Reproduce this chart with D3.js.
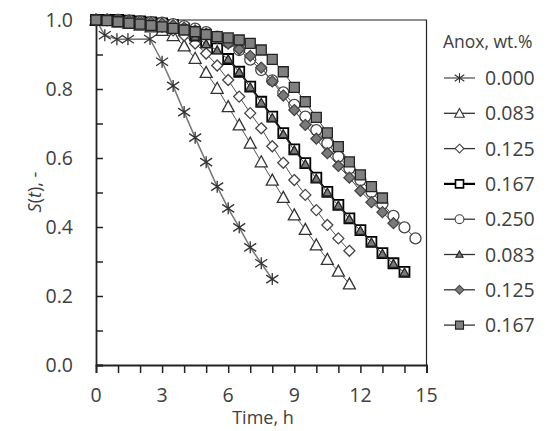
<!DOCTYPE html>
<html><head><meta charset="utf-8">
<script src="https://cdn.jsdelivr.net/npm/d3@7"></script>
<style>body{margin:0;background:#fff;}svg{display:block;font-family:"Open Sans",Lato,sans-serif;}</style>
</head><body><svg id="c" width="554" height="431"></svg>
<script>
const legendTitle = "Anox, wt.%";
const legendLabels = ["0.000","0.083","0.125","0.167","0.250","0.083","0.125","0.167"];
const xTickLabels = [0,3,6,9,12,15];
const yTickLabels = [0.0,0.2,0.4,0.6,0.8,1.0];

const tA = [0,0.4,0.95,1.45,2.45,3,3.5,4,4.5,5,5.5,6,6.5,7,7.5,8];
const sA = [1,0.956,0.944,0.944,0.945,0.879,0.809,0.733,0.659,0.588,0.517,0.454,0.399,0.341,0.295,0.249];

const tB = [0,0.5,1,1.5,2,2.5,3,3.5,4,4.5,5,5.5,6,6.5,7,7.5,8,8.5,9,9.5,10,10.5,11,11.5];
const sB = [1,1,0.995,0.99,0.985,0.98,0.97,0.955,0.925,0.889,0.848,0.802,0.749,0.696,0.643,0.589,0.536,0.486,0.435,0.393,0.348,0.306,0.272,0.235];

const tC = [0,0.5,1,1.5,2,2.5,3,3.5,4,4.5,5,5.5,6,6.5,7,7.5,8,8.5,9,9.5,10,10.5,11,11.5];
const sC = [1,1,0.998,0.995,0.99,0.985,0.98,0.97,0.955,0.932,0.903,0.868,0.826,0.778,0.73,0.686,0.634,0.586,0.536,0.493,0.449,0.406,0.367,0.331];

const tD = [0,0.5,1,1.5,2,2.5,3,3.5,4,4.5,5,5.5,6,6.5,7,7.5,8,8.5,9,9.5,10,10.5,11,11.5,12,12.5,13,13.5,14];
const sD = [1,1,1,0.998,0.996,0.993,0.99,0.985,0.975,0.955,0.935,0.918,0.887,0.85,0.807,0.763,0.72,0.672,0.625,0.585,0.543,0.502,0.464,0.425,0.391,0.357,0.324,0.295,0.27];

const tE = [0,0.5,1,1.5,2,2.5,3,3.5,4,4.5,5,5.5,6,6.5,7,7.5,8,8.5,9,9.5,10,10.5,11,11.5,12,12.5,13,13.5,14,14.5];
const sE = [1,1,1,0.998,0.996,0.994,0.992,0.988,0.982,0.975,0.965,0.952,0.935,0.913,0.885,0.855,0.825,0.79,0.754,0.72,0.681,0.643,0.604,0.57,0.536,0.502,0.467,0.432,0.399,0.367];

const tF = [0,0.5,1,1.5,2,2.5,3,3.5,4,4.5,5,5.5,6,6.5,7,7.5,8,8.5,9,9.5,10,10.5,11,11.5,12,12.5,13,13.5,14];
const sF = [1,1,1,0.997,0.995,0.992,0.988,0.982,0.972,0.952,0.93,0.912,0.886,0.849,0.805,0.76,0.716,0.669,0.622,0.582,0.54,0.5,0.462,0.423,0.389,0.355,0.322,0.293,0.268];

const tG = [0,0.5,1,1.5,2,2.5,3,3.5,4,4.5,5,5.5,6,6.5,7,7.5,8,8.5,9,9.5,10,10.5,11,11.5,12,12.5,13,13.5];
const sG = [1,1,1,0.998,0.996,0.993,0.99,0.985,0.978,0.97,0.96,0.948,0.932,0.915,0.896,0.862,0.822,0.781,0.739,0.696,0.656,0.614,0.577,0.543,0.505,0.472,0.443,0.411];

const tH = [0,0.5,1,1.5,2,2.5,3,3.5,4,4.5,5,5.5,6,6.5,7,7.5,8,8.5,9,9.5,10,10.5,11,11.5,12,12.5,13];
const sH = [1,0.998,0.995,0.991,0.988,0.984,0.98,0.976,0.971,0.966,0.958,0.952,0.948,0.942,0.932,0.913,0.886,0.85,0.805,0.763,0.718,0.673,0.633,0.589,0.551,0.517,0.484];

const series = [
  {t:tA, s:sA, marker:"star", fill:"none", stroke:"#333", line:"#777", lw:1.5},
  {t:tB, s:sB, marker:"tri", fill:"#fff", stroke:"#333", line:"#555", lw:1},
  {t:tC, s:sC, marker:"dia", fill:"#fff", stroke:"#444", line:"#555", lw:1},
  {t:tD, s:sD, marker:"sq", fill:"#fff", stroke:"#000", line:"#000", lw:2},
  {t:tE, s:sE, marker:"circ", fill:"#fff", stroke:"#444", line:"#555", lw:1},
  {t:tF, s:sF, marker:"tris", fill:"#7a7a7a", stroke:"#222", line:"#444", lw:1},
  {t:tG, s:sG, marker:"dia", fill:"#7a7a7a", stroke:"#444", line:"#444", lw:1},
  {t:tH, s:sH, marker:"sq", fill:"#808080", stroke:"#222", line:"#444", lw:1}
];

const txt = "#404040";
const svg = d3.select("#c");
const x = d3.scaleLinear().domain([0,15]).range([96,426.5]);
const y = d3.scaleLinear().domain([0,1]).range([365,20]);

svg.append("path").attr("d",`M${x(0)},${y(1)}H${x(15)}V${y(0)}`).attr("fill","none").attr("stroke","#222").attr("stroke-width",1.2);

const xa = svg.append("g").attr("transform",`translate(0,${y(0)})`)
  .call(d3.axisBottom(x).tickValues(d3.range(0,16,1)).tickSize(8).tickFormat(""));
xa.select(".domain").attr("stroke","#222").attr("stroke-width",1.8);
xa.selectAll(".tick line").attr("stroke","#222").attr("stroke-width",1.5);
svg.append("g").selectAll("text").data(xTickLabels).join("text")
  .attr("x",d=>x(d)).attr("y",402).attr("text-anchor","middle")
  .attr("font-size",19.5).attr("fill",txt).text(d=>d);

const ya = svg.append("g").attr("transform",`translate(${x(0)},0)`)
  .call(d3.axisRight(y).tickValues(d3.range(0,11).map(i=>i/10)).tickSize(7).tickFormat(""));
ya.select(".domain").attr("stroke","#222").attr("stroke-width",1.8);
ya.selectAll(".tick line").attr("stroke","#222").attr("stroke-width",1.5);
svg.append("g").selectAll("text").data(yTickLabels).join("text")
  .attr("x",73).attr("y",d=>y(d)+7).attr("text-anchor","end")
  .attr("font-size",19.5).attr("fill",txt).text(d=>d3.format(".1f")(d));

svg.append("text").attr("x",263).attr("y",424).attr("text-anchor","middle")
  .attr("font-size",18).attr("fill",txt).text("Time, h");
const yt = svg.append("text").attr("transform","translate(41,192) rotate(-90)")
  .attr("text-anchor","middle").attr("font-size",18).attr("fill",txt);
yt.append("tspan").attr("font-style","italic").text("S");
yt.append("tspan").text("(");
yt.append("tspan").attr("font-style","italic").text("t");
yt.append("tspan").text("), -");

function markerPath(m, k){
  k = k||1;
  if(m==="star") return `M0,${-6*k}V${6*k}M${-6*k},${-4*k}L${6*k},${4*k}M${-6*k},${4*k}L${6*k},${-4*k}`;
  if(m==="tri") return `M0,${-6*k}L${6*k},${5*k}L${-6*k},${5*k}Z`;
  if(m==="tris") return `M0,${-4.5*k}L${4.5*k},${3.5*k}L${-4.5*k},${3.5*k}Z`;
  if(m==="dia") return `M0,${-5.5*k}L${5.5*k},0L0,${5.5*k}L${-5.5*k},0Z`;
  if(m==="sq") return `M${-5*k},${-5*k}H${5*k}V${5*k}H${-5*k}Z`;
  if(m==="circ") return d3.arc()({innerRadius:0,outerRadius:5.5*k,startAngle:0,endAngle:2*Math.PI});
}

const line = d3.line().x(d=>x(d[0])).y(d=>y(d[1]));
series.forEach(sr=>{
  const pts = sr.t.map((t,i)=>[t,sr.s[i]]);
  const g = svg.append("g");
  g.append("path").attr("d",line(pts)).attr("fill","none").attr("stroke",sr.line).attr("stroke-width",sr.lw);
  g.selectAll("path.m").data(pts).join("path").attr("class","m")
    .attr("transform",d=>`translate(${x(d[0])},${y(d[1])})`)
    .attr("d",markerPath(sr.marker))
    .attr("fill",sr.fill).attr("stroke",sr.stroke)
    .attr("stroke-width",sr.marker==="sq"&&sr.fill==="#fff"?1.8:1.3);
});

const lg = svg.append("g");
lg.append("text").attr("x",443).attr("y",48).attr("font-size",17.5).attr("fill",txt).text(legendTitle);
legendLabels.forEach((lab,i)=>{
  const sr = series[i];
  const cy = 78 + i*35.3;
  lg.append("line").attr("x1",444).attr("x2",475).attr("y1",cy).attr("y2",cy)
    .attr("stroke",sr.marker==="star"?"#555":(i===3?"#000":"#333")).attr("stroke-width",i===3?2.2:1.3);
  lg.append("path").attr("transform",`translate(459.5,${cy})`).attr("d",markerPath(sr.marker,0.8))
    .attr("fill",sr.fill).attr("stroke",sr.stroke).attr("stroke-width",i===3?1.6:1.1);
  lg.append("text").attr("x",485).attr("y",cy+7).attr("font-size",19.5).attr("fill",txt).text(lab);
});
</script></body></html>
